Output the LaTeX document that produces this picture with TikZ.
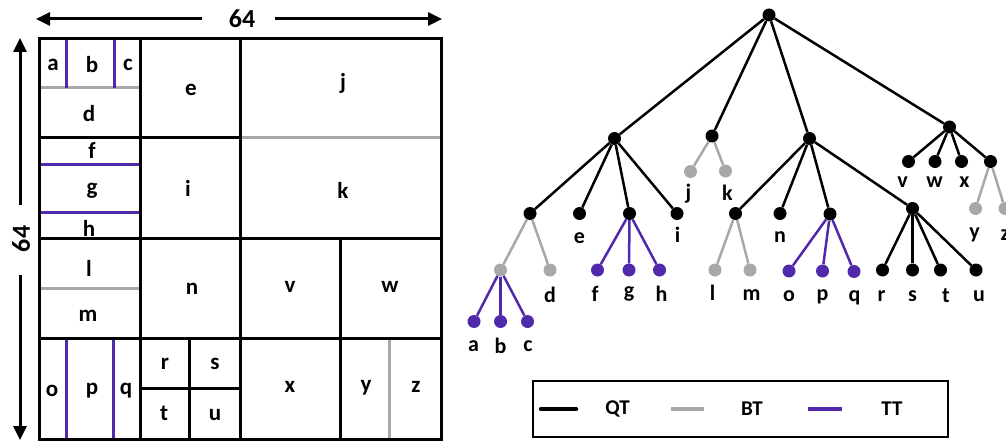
\documentclass[tikz,border=0pt]{standalone}
\usepackage{fontspec}
\setmainfont{Carlito}
\usetikzlibrary{arrows.meta}
\definecolor{ttpurple}{RGB}{80,42,170}
\definecolor{btgray}{RGB}{168,168,168}

\begin{document}
\begin{tikzpicture}[x=1pt,y=-1pt,
  qtline/.style={line width=3pt, black},
  btline/.style={line width=3pt, btgray},
  ttline/.style={line width=3pt, ttpurple},
  dimline/.style={line width=3pt, -{Triangle[length=14pt,width=13pt]}},
  dimtext/.style={font=\fontsize{26}{28}\selectfont\bfseries, inner sep=0pt},
  cell/.style={font=\fontsize{23}{25}\selectfont\bfseries, inner sep=0pt},
  leaf/.style={font=\fontsize{22}{24}\selectfont\bfseries, inner sep=0pt},
  legtext/.style={font=\fontsize{21}{23}\selectfont\bfseries, inner sep=0pt},
  dq/.style={circle, fill=black, minimum size=13pt, inner sep=0pt},
  db/.style={circle, fill=btgray, minimum size=13pt, inner sep=0pt},
  dt/.style={circle, fill=ttpurple, minimum size=13pt, inner sep=0pt},
  qe/.style={line width=2.5pt, black},
  be/.style={line width=2.5pt, btgray},
  te/.style={line width=2.5pt, ttpurple}
]
\useasboundingbox (0,0) rectangle (1006,441);
\clip (0,0) rectangle (1006,441);

% ---------- partition of the 64x64 block ----------
% binary splits
\draw[btline] (39.5,88) -- (140,88);
\draw[btline] (240,137.5) -- (441,137.5);
\draw[btline] (39.5,288) -- (140,288);
\draw[btline] (389.5,338) -- (389.5,439);
% ternary splits
\draw[ttline] (66.5,38.5) -- (66.5,88);
\draw[ttline] (114,38.5) -- (114,88);
\draw[ttline] (39.5,164.5) -- (140,164.5);
\draw[ttline] (39.5,212.5) -- (140,212.5);
\draw[ttline] (66.5,338) -- (66.5,439);
\draw[ttline] (113,338) -- (113,439);
% quad splits
\draw[qtline] (39.5,38.5) rectangle (441,439);
\draw[qtline] (140,38.5) -- (140,439);
\draw[qtline] (240,38.5) -- (240,439);
\draw[qtline] (340,238) -- (340,439);
\draw[qtline] (39.5,137.5) -- (240,137.5);
\draw[qtline] (39.5,238) -- (441,238);
\draw[qtline] (39.5,338) -- (441,338);
\draw[qtline] (189.5,338) -- (189.5,439);
\draw[qtline] (140,388) -- (240,388);

% block labels
\node[cell] (ga) at (53,65) {a};
\node[cell] (gb) at (92,65) {b};
\node[cell] (gc) at (128,65) {c};
\node[cell] (gd) at (89,114) {d};
\node[cell] (ge) at (191,90) {e};
\node[cell] (gj) at (343,83) {j};
\node[cell] (gf) at (92,151) {f};
\node[cell] (gg) at (92,191) {g};
\node[cell] (gh) at (89,228) {h};
\node[cell] (gi) at (188,188) {i};
\node[cell] (gk) at (343,190) {k};
\node[cell] (gl) at (89,268) {l};
\node[cell] (gm) at (88,316) {m};
\node[cell] (gn) at (192,289) {n};
\node[cell] (gv) at (290,287) {v};
\node[cell] (gw) at (390,287) {w};
\node[cell] (go) at (52,391) {o};
\node[cell] (gp) at (92,391) {p};
\node[cell] (gq) at (126,391) {q};
\node[cell] (gr) at (165,364) {r};
\node[cell] (gs) at (215,364) {s};
\node[cell] (gt) at (164,413) {t};
\node[cell] (gu) at (215,415) {u};
\node[cell] (gx) at (290,387) {x};
\node[cell] (gy) at (366,388) {y};
\node[cell] (gz) at (416,387) {z};

% dimension arrows
\node[dimtext] (wd) at (242,19) {64};
\node[dimtext, rotate=90] (ht) at (21,239) {64};
\coordinate (wl) at (36,19);
\coordinate (wr) at (442,19);
\coordinate (ht1) at (20,38);
\coordinate (hb1) at (20,440);
\draw[dimline] (202,19) -- (wl);
\draw[dimline] (275,19) -- (wr);
\draw[dimline] (20,205) -- (ht1);
\draw[dimline] (20,275) -- (hb1);

% ---------- partition tree ----------
\node[dq] (root) at (769,15) {};
\node[dq] (A) at (614.5,138.5) {};
\node[dq] (J) at (712,136) {};
\node[dq] (N) at (809.5,138.5) {};
\node[dq] (V) at (949.5,127) {};
\node[dq] (A1) at (530,213.5) {};
\node[dq] (e) at (579.5,213.5) {};
\node[dq] (G) at (629.5,213.5) {};
\node[dq] (i) at (677,213.5) {};
\node[db] (j) at (690.5,171.5) {};
\node[db] (k) at (725.5,171) {};
\node[dq] (L) at (735.5,213.5) {};
\node[dq] (n) at (780,213.5) {};
\node[dq] (P) at (830,214) {};
\node[dq] (R) at (912.5,208.5) {};
\node[dq] (v) at (908.5,161.5) {};
\node[dq] (w) at (935,161.5) {};
\node[dq] (x) at (961.5,161.5) {};
\node[dq] (Y) at (990.5,161.5) {};
\node[db] (y) at (975.5,208.5) {};
\node[db] (z) at (1005,208.5) {};
\node[db] (B) at (500.5,270) {};
\node[db] (d) at (550,270) {};
\node[dt] (f) at (597.5,270) {};
\node[dt] (g) at (629,270) {};
\node[dt] (h) at (659.5,270) {};
\node[db] (l) at (715,270) {};
\node[db] (m) at (750,270) {};
\node[dt] (o) at (789,271) {};
\node[dt] (p) at (822.5,271) {};
\node[dt] (q) at (854,271.5) {};
\node[dq] (r) at (882.5,270) {};
\node[dq] (s) at (912.5,270) {};
\node[dq] (t) at (940.5,270) {};
\node[dq] (u) at (976,270) {};
\node[dt] (a) at (474,321.5) {};
\node[dt] (b) at (500.5,321.5) {};
\node[dt] (c) at (527.5,321.5) {};

% edges
\foreach \ch in {A,J,N,V} \draw[qe] (root) -- (\ch);
\foreach \ch in {A1,e,G,i} \draw[qe] (A) -- (\ch);
\foreach \ch in {L,n,P,R} \draw[qe] (N) -- (\ch);
\foreach \ch in {v,w,x,Y} \draw[qe] (V) -- (\ch);
\foreach \ch in {r,s,t,u} \draw[qe] (R) -- (\ch);
\foreach \ch in {j,k} \draw[be] (J) -- (\ch);
\foreach \ch in {B,d} \draw[be] (A1) -- (\ch);
\foreach \ch in {l,m} \draw[be] (L) -- (\ch);
\foreach \ch in {y,z} \draw[be] (Y) -- (\ch);
\foreach \ch in {a,b,c} \draw[te] (B) -- (\ch);
\foreach \ch in {f,g,h} \draw[te] (G) -- (\ch);
\foreach \ch in {o,p,q} \draw[te] (P) -- (\ch);

% leaf labels
\node[leaf] (ta) at (473.5,346) {a};
\node[leaf] (tb) at (500.5,346) {b};
\node[leaf] (tc) at (528,346) {c};
\node[leaf] (td) at (550,294.5) {d};
\node[leaf] (te) at (579.5,238.5) {e};
\node[leaf] (tf) at (595,293.5) {f};
\node[leaf] (tg) at (629,294) {g};
\node[leaf] (th) at (661.5,293.5) {h};
\node[leaf] (ti) at (677.5,235) {i};
\node[leaf] (tj) at (688.5,193.5) {j};
\node[leaf] (tk) at (727.5,193) {k};
\node[leaf] (tl) at (712.5,293) {l};
\node[leaf] (tm) at (751.5,295) {m};
\node[leaf] (tn) at (780,237.5) {n};
\node[leaf] (to) at (789,296.5) {o};
\node[leaf] (tp) at (822.5,297) {p};
\node[leaf] (tq) at (854.5,297.5) {q};
\node[leaf] (tr) at (881.5,296.5) {r};
\node[leaf] (ts) at (912.5,296.5) {s};
\node[leaf] (tt) at (946,296) {t};
\node[leaf] (tu) at (979,296.5) {u};
\node[leaf] (tv) at (902.5,182.5) {v};
\node[leaf] (tw) at (934.5,182.5) {w};
\node[leaf] (tx) at (964.5,182.5) {x};
\node[leaf] (ty) at (974.5,235) {y};
\node[leaf] (tz) at (1005,235) {z};

% ---------- legend ----------
\draw[line width=2pt] (533,380.5) rectangle (948,436.5);
\coordinate (k1) at (541,409); \coordinate (k2) at (576,409);
\coordinate (k3) at (671,409); \coordinate (k4) at (704,409);
\coordinate (k5) at (808,409); \coordinate (k6) at (842,409);
\draw[line width=4.5pt, black, line cap=round] (k1) -- (k2);
\draw[line width=4pt, btgray] (k3) -- (k4);
\draw[line width=4pt, ttpurple] (k5) -- (k6);
\node[legtext] (lq) at (617.5,409) {QT};
\node[legtext] (lb) at (752,409) {BT};
\node[legtext] (lt) at (892,409) {TT};
\end{tikzpicture}
\end{document}
